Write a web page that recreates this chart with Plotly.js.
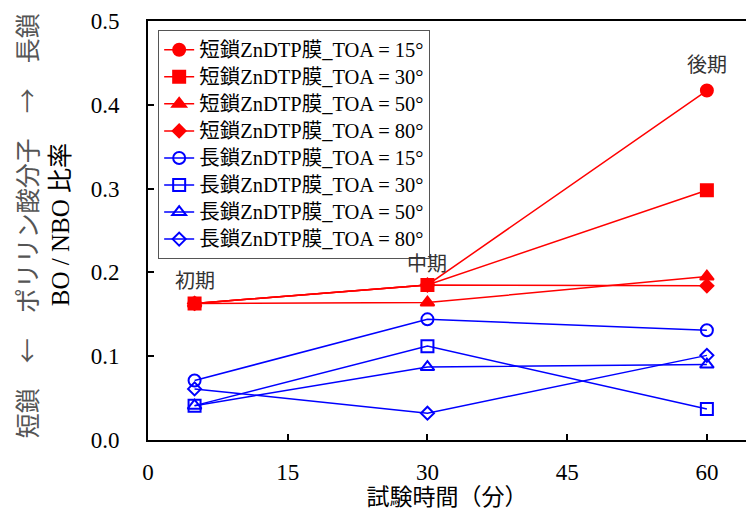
<!DOCTYPE html>
<html><head><meta charset="utf-8">
<script src="https://cdn.plot.ly/plotly-3.0.1.min.js"></script>
<style>html,body{margin:0;padding:0;background:#fff}</style>
</head><body>
<div id="chart" style="width:746px;height:510px"></div>
<script>
const times = [5, 30, 60];
const seriesNames = [
  "短鎖ZnDTP膜_TOA = 15°", "短鎖ZnDTP膜_TOA = 30°", "短鎖ZnDTP膜_TOA = 50°", "短鎖ZnDTP膜_TOA = 80°",
  "長鎖ZnDTP膜_TOA = 15°", "長鎖ZnDTP膜_TOA = 30°", "長鎖ZnDTP膜_TOA = 50°", "長鎖ZnDTP膜_TOA = 80°"
];
const short15 = [0.163, 0.185, 0.417];
const short30 = [0.163, 0.185, 0.298];
const short50 = [0.163, 0.164, 0.195];
const short80 = [0.163, 0.185, 0.184];
const long15 = [0.071, 0.144, 0.131];
const long30 = [0.041, 0.112, 0.037];
const long50 = [0.041, 0.087, 0.090];
const long80 = [0.061, 0.032, 0.101];
const phaseLabels = ["初期", "中期", "後期"];
const phaseX = [5, 30, 60];
const phaseY = [0.19, 0.21, 0.448];
const xTicks = [0, 15, 30, 45, 60];
const yTicks = [0, 0.1, 0.2, 0.3, 0.4, 0.5];
const yTitleOuter = "短鎖　←　ポリリン酸分子　→　長鎖";
const yTitleInner = "BO / NBO 比率";
const xTitle = "試験時間（分）";

const values = [short15, short30, short50, short80, long15, long30, long50, long80];
const symbols = ["circle","square","triangle-up","diamond","circle-open","square-open","triangle-up-open","diamond-open"];
const RED = "#ff0000", BLUE = "#0000ff";
const FONT = "Liberation Serif, Tinos, Times New Roman, Noto Sans CJK JP, serif";
const NUMFONT = "Liberation Serif, Tinos, serif";
const CJK = "Noto Sans CJK JP, sans-serif";

const traces = values.map((v, i) => {
  const c = i < 4 ? RED : BLUE;
  const isDia = symbols[i].startsWith("diamond");
  return {
    x: times, y: v, name: "<span style='font-size:20.5px'>" + seriesNames[i] + "</span>",
    type: "scatter", mode: "lines+markers",
    line: {color: c, width: 1.5},
    marker: {symbol: symbols[i], color: c, size: isDia ? 10 : 12, line: {color: c, width: 2}}
  };
});

const annotations = phaseLabels.map((t, i) => ({
  x: phaseX[i], y: phaseY[i], xref: "x", yref: "y", text: t, showarrow: false,
  font: {family: FONT, size: 20, color: "#333"}
}));
annotations.push({
  x: -0.204, y: 0.51, xref: "paper", yref: "paper", text: yTitleOuter, textangle: -90,
  showarrow: false, xanchor: "center", yanchor: "middle",
  font: {family: CJK, size: 25, color: "#555"}
});
annotations.push({
  x: -0.147, y: 0.513, xref: "paper", yref: "paper", text: yTitleInner, textangle: -90,
  showarrow: false, xanchor: "center", yanchor: "middle",
  font: {family: FONT, size: 25, color: "#000"}
});

const layout = {
  width: 746, height: 510,
  margin: {l: 148, r: 0, t: 21, b: 70},
  paper_bgcolor: "#fff", plot_bgcolor: "#fff",
  font: {family: FONT, size: 20, color: "#000"},
  showlegend: true,
  legend: {x: 0.017, y: 0.978, xanchor: "left", yanchor: "top",
    bgcolor: "#fff", bordercolor: "#555", borderwidth: 1,
    font: {family: FONT, size: 18.5, color: "#000"}, tracegroupgap: 0, itemwidth: 30},
  xaxis: {range: [0, 64.2], tickvals: xTicks, ticktext: xTicks.map(String),
    showgrid: false, zeroline: false, showline: true, linecolor: "#000", linewidth: 2,
    mirror: true, ticks: "inside", ticklen: 6, tickwidth: 2, tickcolor: "#000",
    ticklabelstandoff: 10,
    tickfont: {family: NUMFONT, size: 23},
    title: {text: xTitle, font: {family: FONT, size: 23}, standoff: 8}},
  yaxis: {range: [0, 0.5], tickvals: yTicks, ticktext: yTicks.map(v => v.toFixed(1)),
    showgrid: false, zeroline: false, showline: true, linecolor: "#000", linewidth: 2,
    ticks: "inside", ticklen: 6, tickwidth: 2, tickcolor: "#000",
    ticklabelstandoff: 22,
    tickfont: {family: NUMFONT, size: 23}},
  annotations: annotations
};

Plotly.newPlot("chart", traces, layout, {displayModeBar: false, staticPlot: true});
</script>
</body></html>
